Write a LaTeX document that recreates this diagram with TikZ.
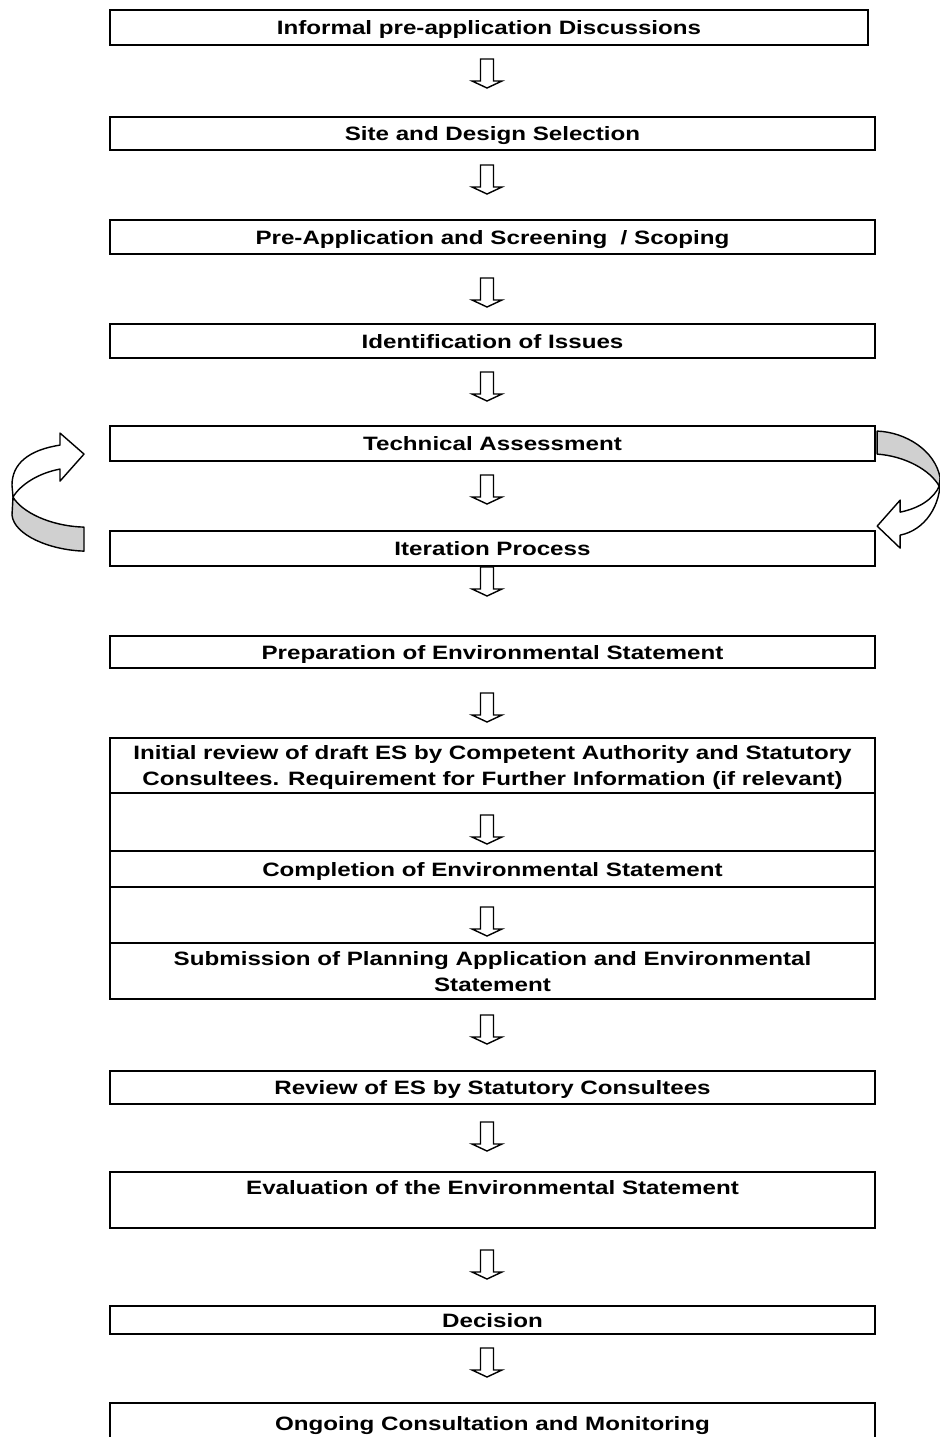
\documentclass[tikz,border=0pt]{standalone}
\usepackage{fontspec}
\setmainfont{Liberation Sans}[FakeStretch=1.25]
\usepackage{tikz}
\usetikzlibrary{positioning,calc}
\definecolor{ribbon}{RGB}{208,208,208}
\tikzstyle{box} = [rectangle, draw, line width=1.1pt, outer sep=0pt, inner sep=0pt, minimum width=15.3cm, align=center, text depth=0pt, font=\bfseries\fontsize{11}{14.8}\selectfont]
\tikzset{downarr/.pic={\draw[line width=0.8pt, fill=white] (-0.13,0) -- (0.13,0) -- (0.13,-0.44) -- (0.30,-0.44) -- (0,-0.58) -- (-0.30,-0.44) -- (-0.13,-0.44) -- cycle;}}

\begin{document}
\begin{tikzpicture}
    \useasboundingbox (0,0) rectangle (18.8,-28.74);
    \node[box, minimum width=15.16cm, minimum height=0.7cm, anchor=north west] (informal) at (2.2,-0.2) {Informal pre-application Discussions};
    \node[box, minimum height=0.66cm, below right=1.44cm and 0cm of informal.south west] (site) {Site and Design Selection};
    \node[box, minimum height=0.68cm, below=1.40cm of site] (screen) {Pre-Application and Screening~ / Scoping};
    \node[box, minimum height=0.68cm, below=1.40cm of screen] (issues) {Identification of Issues};
    \node[box, minimum height=0.70cm, below=1.36cm of issues] (tech) {Technical Assessment};
    \node[box, minimum height=0.70cm, below=1.40cm of tech] (iter) {Iteration Process};
    \node[box, minimum height=0.64cm, below=1.40cm of iter] (prep) {Preparation of Environmental Statement};
    \node[box, minimum height=1.10cm, below=1.40cm of prep] (draft) {Initial review of draft ES by Competent Authority and Statutory\\Consultees. Requirement for Further Information (if relevant)};
    \node[box, minimum height=1.16cm, below=0cm of draft] (gapa) {};
    \node[box, minimum height=0.72cm, below=0cm of gapa] (complete) {Completion of Environmental Statement};
    \node[box, minimum height=1.12cm, below=0cm of complete] (gapb) {};
    \node[box, minimum height=1.12cm, below=0cm of gapb] (submit) {Submission of Planning Application and Environmental\\Statement};
    \node[box, minimum height=0.66cm, below=1.44cm of submit] (consult) {Review of ES by Statutory Consultees};
    \node[box, minimum height=1.12cm, below=1.36cm of consult] (eval) {Evaluation of the Environmental Statement\\\mbox{}};
    \node[box, minimum height=0.56cm, below=1.56cm of eval] (decision) {Decision};
    \node[box, minimum height=0.80cm, below=1.38cm of decision] (monitor) {Ongoing Consultation and Monitoring};
    \pic at ($(informal.south)+(-0.04,-0.28)$) {downarr};
    \pic at ($(site.south)+(-0.11,-0.30)$) {downarr};
    \pic at ($(screen.south)+(-0.11,-0.48)$) {downarr};
    \pic at ($(issues.south)+(-0.11,-0.28)$) {downarr};
    \pic at ($(tech.south)+(-0.11,-0.28)$) {downarr};
    \pic at ($(iter.south)+(-0.11,-0.02)$) {downarr};
    \pic at ($(prep.south)+(-0.11,-0.50)$) {downarr};
    \pic at ($(draft.south)+(-0.11,-0.44)$) {downarr};
    \pic at ($(complete.south)+(-0.11,-0.40)$) {downarr};
    \pic at ($(submit.south)+(-0.11,-0.32)$) {downarr};
    \pic at ($(consult.south)+(-0.11,-0.36)$) {downarr};
    \pic at ($(eval.south)+(-0.11,-0.44)$) {downarr};
    \pic at ($(decision.south)+(-0.11,-0.28)$) {downarr};
    \begin{scope}[x=0.02cm, y=-0.02cm, line width=0.8pt, line join=round]
        \draw[fill=white] (84,454) -- (60,433) -- (60,445) .. controls (28,450) and (12,464) .. (12,485) -- (13,497) .. controls (20,485) and (38,473) .. (60,469) -- (60,481) -- cycle;
        \draw[fill=ribbon] (13,497) .. controls (22,512) and (50,526) .. (84,527) -- (84,551) .. controls (50,550) and (14,535) .. (12,515) -- cycle;
        \draw[fill=ribbon] (877,431) .. controls (905,432) and (935,450) .. (940,478) -- (939,486) .. controls (930,470) and (905,456) .. (877,454) -- cycle;
        \draw[fill=white] (940,478) .. controls (941,505) and (925,530) .. (900,535) -- (900,548) -- (877,526) -- (900,500) -- (900,512) .. controls (920,508) and (934,498) .. (939,486) -- cycle;
    \end{scope}
\end{tikzpicture}
\end{document}
